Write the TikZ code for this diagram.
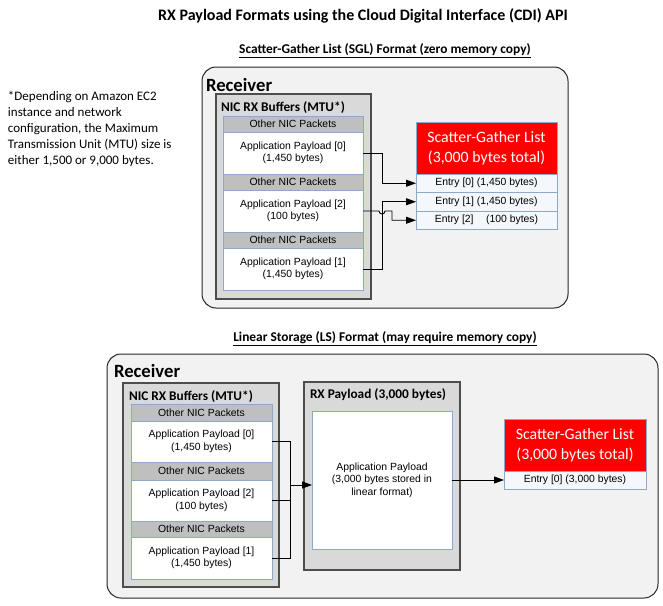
\documentclass[tikz,border=0pt]{standalone}
\usepackage{fontspec}
\setmainfont{Carlito}
\newfontfamily\arial{Liberation Sans}
\usetikzlibrary{arrows.meta}
\definecolor{recfill}{HTML}{F2F2F2}
\definecolor{recdraw}{HTML}{262626}
\definecolor{nicfill}{HTML}{D9D9D9}
\definecolor{nicdraw}{HTML}{4D4D4D}
\definecolor{hdrfill}{HTML}{BFBFBF}
\definecolor{celldraw}{HTML}{8EA9C8}
\definecolor{entryfill}{HTML}{F4F7FB}
\definecolor{sglred}{HTML}{FF0000}
\begin{document}
\begin{tikzpicture}[x=1pt,y=-1pt,
  every node/.style={inner sep=0pt,outer sep=0pt},
  recbox/.style={draw=recdraw,fill=recfill,line width=1pt,rounded corners=14pt,anchor=north west},
  nicbox/.style={draw=nicdraw,fill=nicfill,line width=1.6pt,anchor=north west},
  hdrcell/.style={draw=celldraw,fill=hdrfill,line width=0.8pt,anchor=north west,minimum width=140,
    font=\arial\fontsize{10.4}{12}\selectfont},
  paycell/.style={draw=celldraw,fill=white,line width=0.8pt,anchor=north west,minimum width=140,
    align=center,font=\arial\fontsize{10.4}{12.5}\selectfont},
  sglbox/.style={draw=celldraw,fill=sglred,line width=0.6pt,anchor=north west,text=white,align=center,
    font=\fontsize{15.8}{20}\selectfont},
  entrycell/.style={draw=celldraw,fill=entryfill,line width=0.8pt,anchor=north west,
    font=\arial\fontsize{10.4}{12}\selectfont},
  reclabel/.style={anchor=west,font=\bfseries\fontsize{18.7}{20}\selectfont},
  niclabel/.style={anchor=west,font=\bfseries\fontsize{13.3}{15}\selectfont},
  conn/.style={draw=black,line width=0.9pt},
  arr/.style={conn,-{Triangle[length=10pt,width=7pt]}},
]
\useasboundingbox (0,0) rectangle (663,605);

% titles
\node (title) at (363,16) {\bfseries\fontsize{16}{18}\selectfont RX Payload Formats using the Cloud Digital Interface (CDI) API};
\node (sub1) at (385,51) {\bfseries\fontsize{13.4}{15}\selectfont\underline{Scatter-Gather List (SGL) Format (zero memory copy)}};
\node (sub2) at (385,339) {\bfseries\fontsize{13.4}{15}\selectfont\underline{Linear Storage (LS) Format (may require memory copy)}};

% note
\node[anchor=north west,align=left,font=\fontsize{13}{16}\selectfont] (note) at (8,91)
 {*Depending on Amazon EC2\\instance and network\\configuration, the Maximum\\Transmission Unit (MTU) size is\\either 1,500 or 9,000 bytes.};

% ---------- top: SGL ----------
\node[recbox,minimum width=366,minimum height=241] (rec1) at (202,67) {};
\node[reclabel] (rec1l) at (206,85) {Receiver};
\node[nicbox,minimum width=155,minimum height=205] (nic1) at (216,94) {};
\node[niclabel] (nic1l) at (221,108) {NIC RX Buffers (MTU*)};
\node[hdrcell,minimum height=16] (ta) at (223,116) {Other NIC Packets};
\node[paycell,minimum height=42] (tp0) at (223,132) {Application Payload [0]\\(1,450 bytes)};
\node[hdrcell,minimum height=16] (tb) at (223,174) {Other NIC Packets};
\node[paycell,minimum height=42] (tp2) at (223,190) {Application Payload [2]\\(100 bytes)};
\node[hdrcell,minimum height=16] (tc) at (223,232) {Other NIC Packets};
\node[paycell,minimum height=42] (tp1) at (223,248) {Application Payload [1]\\(1,450 bytes)};

\node[sglbox,minimum width=141,minimum height=52] (sgl1) at (416,122) {Scatter-Gather List\\(3,000 bytes total)};
\node[entrycell,minimum width=141,minimum height=18.5] (e0) at (416,174) {Entry [0] (1,450 bytes)};
\node[entrycell,minimum width=141,minimum height=18.5] (e1) at (416,192.5) {Entry [1] (1,450 bytes)};
\node[entrycell,minimum width=141,minimum height=18.5] (e2) at (416,211) {Entry [2]\hspace{1.2em}(100 bytes)};

\coordinate (tx) at (382,0);
\coordinate (tx2) at (392,0);
\draw[arr] (tp0.east) -| (tx |- e0.west) -- (e0.west);
\draw[arr] (tp1.east) -| (tx |- e1.west) -- (e1.west);
\draw[arr] (tp2.east) -- ([xshift=-3pt]tx |- tp2.east) arc[start angle=180,end angle=360,radius=3pt]
  -- (tx2 |- tp2.east) |- (e2.west);

% ---------- bottom: LS ----------
\node[recbox,minimum width=551,minimum height=244] (rec2) at (107,354) {};
\node[reclabel] (rec2l) at (114,371) {Receiver};
\node[nicbox,minimum width=156,minimum height=204] (nic2) at (123,383) {};
\node[niclabel] (nic2l) at (129,397) {NIC RX Buffers (MTU*)};
\node[hdrcell,minimum width=141,minimum height=17] (ba) at (131,404) {Other NIC Packets};
\node[paycell,minimum width=141,minimum height=41] (bp0) at (131,421) {Application Payload [0]\\(1,450 bytes)};
\node[hdrcell,minimum width=141,minimum height=18] (bb) at (131,462) {Other NIC Packets};
\node[paycell,minimum width=141,minimum height=41] (bp2) at (131,480) {Application Payload [2]\\(100 bytes)};
\node[hdrcell,minimum width=141,minimum height=16] (bc) at (131,521) {Other NIC Packets};
\node[paycell,minimum width=141,minimum height=42] (bp1) at (131,537) {Application Payload [1]\\(1,450 bytes)};

\node[nicbox,minimum width=156,minimum height=188] (rxo) at (304,382) {};
\node[niclabel] (rxol) at (310,395) {RX Payload (3,000 bytes)};
\node[paycell,minimum width=140,minimum height=138] (rxi) at (312,411) {Application Payload\\(3,000 bytes stored in\\linear format)};

\node[sglbox,minimum width=142,minimum height=52] (sgl2) at (504,419) {Scatter-Gather List\\(3,000 bytes total)};
\node[entrycell,minimum width=142,minimum height=18] (be0) at (504,471) {Entry [0] (3,000 bytes)};

\coordinate (jb) at (290,485);
\draw[conn] (bp0.east) -| (jb);
\draw[conn] (bp1.east) -| (jb);
\draw[conn] (bp2.east) -- (bp2.east -| jb);
\draw[arr] (jb) -- (jb -| rxi.west);
\draw[arr] (rxi.east |- be0.west) -- (be0.west);
\end{tikzpicture}
\end{document}
